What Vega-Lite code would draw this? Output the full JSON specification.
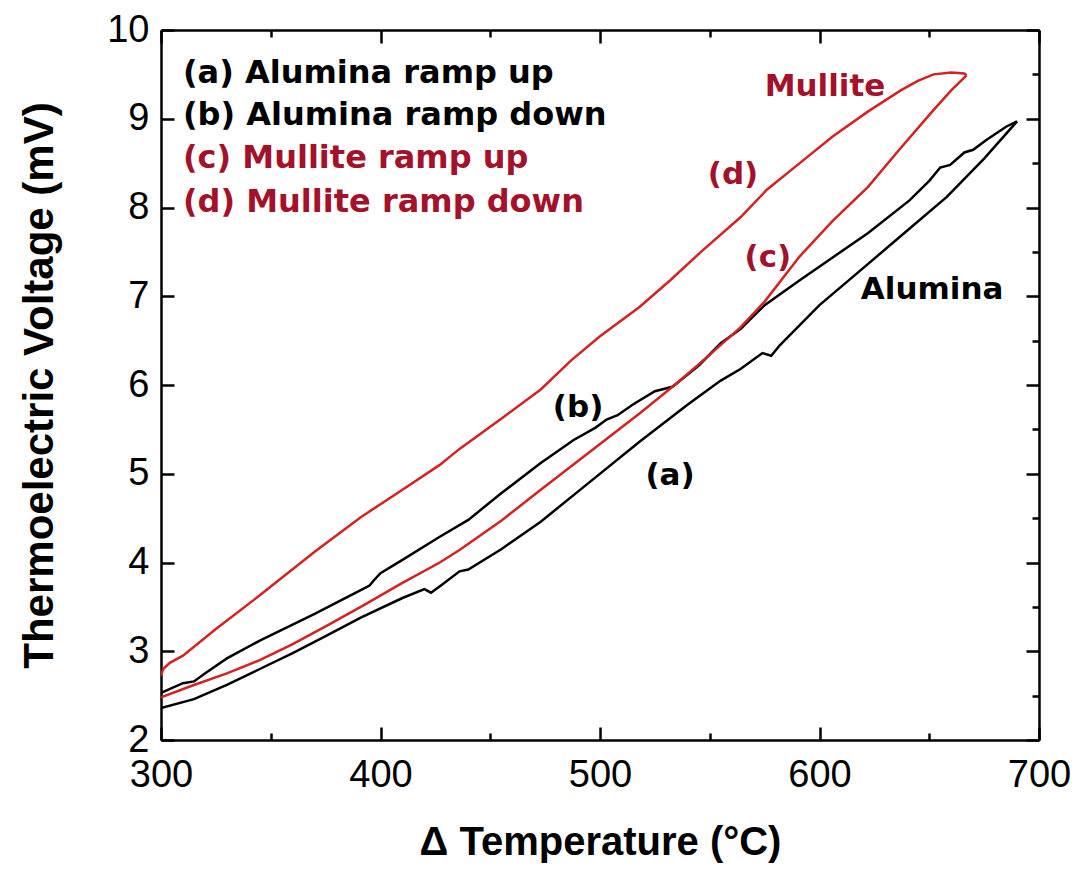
{
  "$schema": "https://vega.github.io/schema/vega-lite/v6.json",
  "width": 878,
  "height": 710,
  "autosize": "none",
  "padding": {"left": 161, "top": 30, "right": 43, "bottom": 131},
  "background": "white",
  "config": {"view": {"stroke": null}},
  "datasets": {
    "curves": [
      {"curve": "a", "material": "Alumina", "seq": 1, "T": 300, "V": 2.36},
      {"curve": "a", "material": "Alumina", "seq": 2, "T": 315, "V": 2.46},
      {"curve": "a", "material": "Alumina", "seq": 3, "T": 330, "V": 2.62},
      {"curve": "a", "material": "Alumina", "seq": 4, "T": 345, "V": 2.8},
      {"curve": "a", "material": "Alumina", "seq": 5, "T": 360, "V": 2.98},
      {"curve": "a", "material": "Alumina", "seq": 6, "T": 375, "V": 3.17},
      {"curve": "a", "material": "Alumina", "seq": 7, "T": 391, "V": 3.38},
      {"curve": "a", "material": "Alumina", "seq": 8, "T": 410, "V": 3.6},
      {"curve": "a", "material": "Alumina", "seq": 9, "T": 420, "V": 3.7},
      {"curve": "a", "material": "Alumina", "seq": 10, "T": 423, "V": 3.66},
      {"curve": "a", "material": "Alumina", "seq": 11, "T": 428, "V": 3.75},
      {"curve": "a", "material": "Alumina", "seq": 12, "T": 436, "V": 3.9},
      {"curve": "a", "material": "Alumina", "seq": 13, "T": 440, "V": 3.92},
      {"curve": "a", "material": "Alumina", "seq": 14, "T": 455, "V": 4.15},
      {"curve": "a", "material": "Alumina", "seq": 15, "T": 473, "V": 4.46},
      {"curve": "a", "material": "Alumina", "seq": 16, "T": 495, "V": 4.9},
      {"curve": "a", "material": "Alumina", "seq": 17, "T": 518, "V": 5.36},
      {"curve": "a", "material": "Alumina", "seq": 18, "T": 540, "V": 5.78},
      {"curve": "a", "material": "Alumina", "seq": 19, "T": 555, "V": 6.05},
      {"curve": "a", "material": "Alumina", "seq": 20, "T": 564, "V": 6.18},
      {"curve": "a", "material": "Alumina", "seq": 21, "T": 574, "V": 6.36},
      {"curve": "a", "material": "Alumina", "seq": 22, "T": 578, "V": 6.33},
      {"curve": "a", "material": "Alumina", "seq": 23, "T": 582, "V": 6.45},
      {"curve": "a", "material": "Alumina", "seq": 24, "T": 600, "V": 6.9},
      {"curve": "a", "material": "Alumina", "seq": 25, "T": 620, "V": 7.32},
      {"curve": "a", "material": "Alumina", "seq": 26, "T": 640, "V": 7.74},
      {"curve": "a", "material": "Alumina", "seq": 27, "T": 658, "V": 8.12},
      {"curve": "a", "material": "Alumina", "seq": 28, "T": 675, "V": 8.55},
      {"curve": "a", "material": "Alumina", "seq": 29, "T": 690, "V": 8.97},
      {"curve": "b", "material": "Alumina", "seq": 1, "T": 690, "V": 8.97},
      {"curve": "b", "material": "Alumina", "seq": 2, "T": 685, "V": 8.91},
      {"curve": "b", "material": "Alumina", "seq": 3, "T": 676, "V": 8.76},
      {"curve": "b", "material": "Alumina", "seq": 4, "T": 670, "V": 8.65},
      {"curve": "b", "material": "Alumina", "seq": 5, "T": 666, "V": 8.62},
      {"curve": "b", "material": "Alumina", "seq": 6, "T": 659.5, "V": 8.48},
      {"curve": "b", "material": "Alumina", "seq": 7, "T": 655, "V": 8.45},
      {"curve": "b", "material": "Alumina", "seq": 8, "T": 650, "V": 8.3},
      {"curve": "b", "material": "Alumina", "seq": 9, "T": 641, "V": 8.08},
      {"curve": "b", "material": "Alumina", "seq": 10, "T": 622, "V": 7.71},
      {"curve": "b", "material": "Alumina", "seq": 11, "T": 605, "V": 7.42},
      {"curve": "b", "material": "Alumina", "seq": 12, "T": 591, "V": 7.18},
      {"curve": "b", "material": "Alumina", "seq": 13, "T": 575, "V": 6.9},
      {"curve": "b", "material": "Alumina", "seq": 14, "T": 564, "V": 6.63},
      {"curve": "b", "material": "Alumina", "seq": 15, "T": 555, "V": 6.47},
      {"curve": "b", "material": "Alumina", "seq": 16, "T": 545, "V": 6.22},
      {"curve": "b", "material": "Alumina", "seq": 17, "T": 533, "V": 5.98},
      {"curve": "b", "material": "Alumina", "seq": 18, "T": 525, "V": 5.93},
      {"curve": "b", "material": "Alumina", "seq": 19, "T": 515, "V": 5.78},
      {"curve": "b", "material": "Alumina", "seq": 20, "T": 508, "V": 5.66},
      {"curve": "b", "material": "Alumina", "seq": 21, "T": 503, "V": 5.61},
      {"curve": "b", "material": "Alumina", "seq": 22, "T": 498, "V": 5.52},
      {"curve": "b", "material": "Alumina", "seq": 23, "T": 488, "V": 5.38},
      {"curve": "b", "material": "Alumina", "seq": 24, "T": 473, "V": 5.12},
      {"curve": "b", "material": "Alumina", "seq": 25, "T": 455, "V": 4.78},
      {"curve": "b", "material": "Alumina", "seq": 26, "T": 440, "V": 4.48},
      {"curve": "b", "material": "Alumina", "seq": 27, "T": 427, "V": 4.29},
      {"curve": "b", "material": "Alumina", "seq": 28, "T": 410, "V": 4.03},
      {"curve": "b", "material": "Alumina", "seq": 29, "T": 400, "V": 3.88},
      {"curve": "b", "material": "Alumina", "seq": 30, "T": 397, "V": 3.8},
      {"curve": "b", "material": "Alumina", "seq": 31, "T": 395, "V": 3.74},
      {"curve": "b", "material": "Alumina", "seq": 32, "T": 391, "V": 3.69},
      {"curve": "b", "material": "Alumina", "seq": 33, "T": 370, "V": 3.42},
      {"curve": "b", "material": "Alumina", "seq": 34, "T": 345, "V": 3.12},
      {"curve": "b", "material": "Alumina", "seq": 35, "T": 330, "V": 2.92},
      {"curve": "b", "material": "Alumina", "seq": 36, "T": 320, "V": 2.75},
      {"curve": "b", "material": "Alumina", "seq": 37, "T": 315, "V": 2.66},
      {"curve": "b", "material": "Alumina", "seq": 38, "T": 310, "V": 2.64},
      {"curve": "b", "material": "Alumina", "seq": 39, "T": 300, "V": 2.53},
      {"curve": "c", "material": "Mullite", "seq": 1, "T": 300, "V": 2.48},
      {"curve": "c", "material": "Mullite", "seq": 2, "T": 315, "V": 2.62},
      {"curve": "c", "material": "Mullite", "seq": 3, "T": 330, "V": 2.75},
      {"curve": "c", "material": "Mullite", "seq": 4, "T": 345, "V": 2.9},
      {"curve": "c", "material": "Mullite", "seq": 5, "T": 360, "V": 3.08},
      {"curve": "c", "material": "Mullite", "seq": 6, "T": 375, "V": 3.28},
      {"curve": "c", "material": "Mullite", "seq": 7, "T": 391, "V": 3.5},
      {"curve": "c", "material": "Mullite", "seq": 8, "T": 410, "V": 3.77},
      {"curve": "c", "material": "Mullite", "seq": 9, "T": 427, "V": 4.0},
      {"curve": "c", "material": "Mullite", "seq": 10, "T": 436, "V": 4.14},
      {"curve": "c", "material": "Mullite", "seq": 11, "T": 455, "V": 4.47},
      {"curve": "c", "material": "Mullite", "seq": 12, "T": 473, "V": 4.82},
      {"curve": "c", "material": "Mullite", "seq": 13, "T": 495, "V": 5.24},
      {"curve": "c", "material": "Mullite", "seq": 14, "T": 518, "V": 5.68},
      {"curve": "c", "material": "Mullite", "seq": 15, "T": 535, "V": 6.02},
      {"curve": "c", "material": "Mullite", "seq": 16, "T": 549, "V": 6.32},
      {"curve": "c", "material": "Mullite", "seq": 17, "T": 564, "V": 6.65},
      {"curve": "c", "material": "Mullite", "seq": 18, "T": 575, "V": 6.94},
      {"curve": "c", "material": "Mullite", "seq": 19, "T": 591, "V": 7.45},
      {"curve": "c", "material": "Mullite", "seq": 20, "T": 606, "V": 7.85},
      {"curve": "c", "material": "Mullite", "seq": 21, "T": 622, "V": 8.23},
      {"curve": "c", "material": "Mullite", "seq": 22, "T": 637, "V": 8.67},
      {"curve": "c", "material": "Mullite", "seq": 23, "T": 652, "V": 9.1},
      {"curve": "c", "material": "Mullite", "seq": 24, "T": 660, "V": 9.32},
      {"curve": "c", "material": "Mullite", "seq": 25, "T": 665, "V": 9.44},
      {"curve": "c", "material": "Mullite", "seq": 26, "T": 667, "V": 9.49},
      {"curve": "d", "material": "Mullite", "seq": 1, "T": 667, "V": 9.49},
      {"curve": "d", "material": "Mullite", "seq": 2, "T": 666, "V": 9.51},
      {"curve": "d", "material": "Mullite", "seq": 3, "T": 660, "V": 9.52},
      {"curve": "d", "material": "Mullite", "seq": 4, "T": 652, "V": 9.5},
      {"curve": "d", "material": "Mullite", "seq": 5, "T": 645, "V": 9.43},
      {"curve": "d", "material": "Mullite", "seq": 6, "T": 637, "V": 9.32},
      {"curve": "d", "material": "Mullite", "seq": 7, "T": 622, "V": 9.08},
      {"curve": "d", "material": "Mullite", "seq": 8, "T": 606, "V": 8.8},
      {"curve": "d", "material": "Mullite", "seq": 9, "T": 591, "V": 8.5},
      {"curve": "d", "material": "Mullite", "seq": 10, "T": 576, "V": 8.2},
      {"curve": "d", "material": "Mullite", "seq": 11, "T": 564, "V": 7.89},
      {"curve": "d", "material": "Mullite", "seq": 12, "T": 546, "V": 7.5},
      {"curve": "d", "material": "Mullite", "seq": 13, "T": 532, "V": 7.18},
      {"curve": "d", "material": "Mullite", "seq": 14, "T": 518, "V": 6.88},
      {"curve": "d", "material": "Mullite", "seq": 15, "T": 500, "V": 6.55},
      {"curve": "d", "material": "Mullite", "seq": 16, "T": 487, "V": 6.28},
      {"curve": "d", "material": "Mullite", "seq": 17, "T": 473, "V": 5.95},
      {"curve": "d", "material": "Mullite", "seq": 18, "T": 455, "V": 5.62},
      {"curve": "d", "material": "Mullite", "seq": 19, "T": 436, "V": 5.28},
      {"curve": "d", "material": "Mullite", "seq": 20, "T": 427, "V": 5.1},
      {"curve": "d", "material": "Mullite", "seq": 21, "T": 410, "V": 4.82},
      {"curve": "d", "material": "Mullite", "seq": 22, "T": 391, "V": 4.51},
      {"curve": "d", "material": "Mullite", "seq": 23, "T": 370, "V": 4.12},
      {"curve": "d", "material": "Mullite", "seq": 24, "T": 345, "V": 3.63},
      {"curve": "d", "material": "Mullite", "seq": 25, "T": 325, "V": 3.25},
      {"curve": "d", "material": "Mullite", "seq": 26, "T": 310, "V": 2.95},
      {"curve": "d", "material": "Mullite", "seq": 27, "T": 304, "V": 2.87},
      {"curve": "d", "material": "Mullite", "seq": 28, "T": 301, "V": 2.8},
      {"curve": "d", "material": "Mullite", "seq": 29, "T": 300, "V": 2.72}
    ],
    "legendText": [
      {"label": "(a) Alumina ramp up", "material": "Alumina", "T": 310, "V": 9.52},
      {"label": "(b) Alumina ramp down", "material": "Alumina", "T": 310, "V": 9.04},
      {"label": "(c) Mullite ramp up", "material": "Mullite", "T": 310, "V": 8.56},
      {"label": "(d) Mullite ramp down", "material": "Mullite", "T": 310, "V": 8.06}
    ],
    "annotations": [
      {"label": "Mullite", "material": "Mullite", "T": 602.5, "V": 9.36},
      {"label": "(d)", "material": "Mullite", "T": 560.6, "V": 8.37},
      {"label": "(c)", "material": "Mullite", "T": 576.5, "V": 7.43},
      {"label": "Alumina", "material": "Alumina", "T": 651.3, "V": 7.07},
      {"label": "(b)", "material": "Alumina", "T": 490, "V": 5.74},
      {"label": "(a)", "material": "Alumina", "T": 531.9, "V": 4.97}
    ]
  },
  "layer": [
    {
      "data": {"name": "curves"},
      "mark": {"type": "line", "strokeWidth": 2.5, "clip": true},
      "encoding": {
        "x": {
          "field": "T", "type": "quantitative",
          "scale": {"domain": [300, 700], "nice": false, "zero": false},
          "axis": {
            "orient": "bottom",
            "values": [300, 350, 400, 450, 500, 550, 600, 650, 700],
            "format": "d",
            "labelExpr": "datum.value % 100 === 0 ? datum.label : ''",
            "tickSize": {"condition": {"test": "datum.value % 100 === 0", "value": -13}, "value": -7},
            "tickWidth": 2.5, "tickColor": "black",
            "domainWidth": 2.5, "domainColor": "black",
            "labelFont": "Liberation Sans", "labelFontSize": 38, "labelColor": "black",
            "labelPadding": 29, "labelFlush": false,
            "grid": false,
            "title": "Δ Temperature (°C)",
            "titleFont": "Liberation Sans", "titleFontSize": 40, "titleFontWeight": "bold",
            "titleColor": "black", "titlePadding": 28
          }
        },
        "y": {
          "field": "V", "type": "quantitative",
          "scale": {"domain": [2, 10], "nice": false, "zero": false},
          "axis": {
            "orient": "left",
            "values": [2, 2.5, 3, 3.5, 4, 4.5, 5, 5.5, 6, 6.5, 7, 7.5, 8, 8.5, 9, 9.5, 10],
            "format": "d",
            "labelExpr": "datum.value % 1 === 0 ? datum.label : ''",
            "tickSize": {"condition": {"test": "datum.value % 1 === 0", "value": -13}, "value": -7},
            "tickWidth": 2.5, "tickColor": "black",
            "domainWidth": 2.5, "domainColor": "black",
            "labelFont": "Liberation Sans", "labelFontSize": 38, "labelColor": "black",
            "labelPadding": 25, "labelFlush": false,
            "grid": false,
            "title": "Thermoelectric Voltage (mV)",
            "titleFont": "Liberation Sans", "titleFontSize": 42, "titleFontWeight": "bold",
            "titleColor": "black", "titlePadding": 45
          }
        },
        "detail": {"field": "curve", "type": "nominal"},
        "order": {"field": "seq", "type": "quantitative"},
        "color": {
          "field": "material", "type": "nominal",
          "scale": {"domain": ["Alumina", "Mullite"], "range": ["#000000", "#d32222"]},
          "legend": null
        }
      }
    },
    {
      "data": {"name": "legendText"},
      "mark": {"type": "text", "align": "left", "baseline": "middle", "font": "DejaVu Sans", "fontWeight": "bold", "fontSize": 32},
      "encoding": {
        "x": {
          "field": "T", "type": "quantitative",
          "axis": {
            "orient": "top",
            "values": [300, 350, 400, 450, 500, 550, 600, 650, 700],
            "labels": false,
            "tickSize": {"condition": {"test": "datum.value % 100 === 0", "value": -13}, "value": -7},
            "tickWidth": 2.5, "tickColor": "black",
            "domainWidth": 2.5, "domainColor": "black",
            "grid": false, "title": null
          }
        },
        "y": {
          "field": "V", "type": "quantitative",
          "axis": {
            "orient": "right",
            "values": [2, 2.5, 3, 3.5, 4, 4.5, 5, 5.5, 6, 6.5, 7, 7.5, 8, 8.5, 9, 9.5, 10],
            "labels": false,
            "tickSize": {"condition": {"test": "datum.value % 1 === 0", "value": -13}, "value": -7},
            "tickWidth": 2.5, "tickColor": "black",
            "domainWidth": 2.5, "domainColor": "black",
            "grid": false, "title": null
          }
        },
        "text": {"field": "label", "type": "nominal"},
        "color": {
          "field": "material", "type": "nominal",
          "scale": {"domain": ["Alumina", "Mullite"], "range": ["#000000", "#a3122a"]},
          "legend": null
        }
      }
    },
    {
      "data": {"name": "annotations"},
      "mark": {"type": "text", "align": "center", "baseline": "middle", "font": "DejaVu Sans", "fontWeight": "bold", "fontSize": 31},
      "encoding": {
        "x": {"field": "T", "type": "quantitative", "axis": null},
        "y": {"field": "V", "type": "quantitative", "axis": null},
        "text": {"field": "label", "type": "nominal"},
        "color": {
          "field": "material", "type": "nominal",
          "scale": {"domain": ["Alumina", "Mullite"], "range": ["#000000", "#a3122a"]},
          "legend": null
        }
      }
    }
  ],
  "resolve": {"axis": {"x": "independent", "y": "independent"}, "scale": {"color": "independent"}}
}
